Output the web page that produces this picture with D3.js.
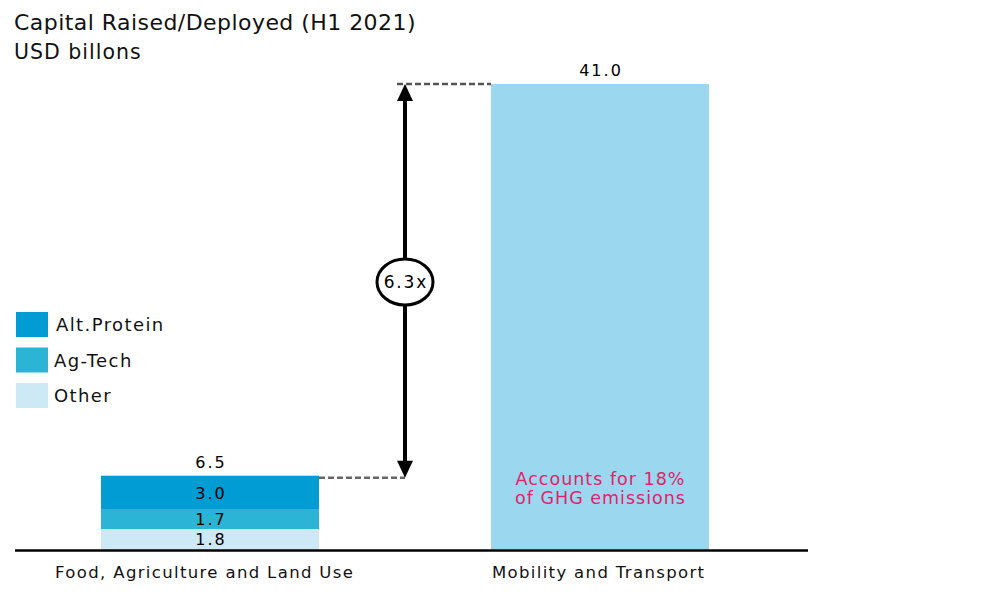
<!DOCTYPE html>
<html><head><meta charset="utf-8">
<script src="https://cdn.jsdelivr.net/npm/d3@7"></script>
<style>body{margin:0;background:#fff}svg{display:block;font-family:"DejaVu Sans",Verdana,sans-serif}</style>
</head><body>
<svg id="c" width="1000" height="600"></svg>
<script>
const categories = ["Food, Agriculture and Land Use", "Mobility and Transport"];
const seriesNames = ["Other", "Ag-Tech", "Alt.Protein"];
const foodValues = [1.8, 1.7, 3.0];
const mobilityValues = [41.0];
const totals = [6.5, 41.0];
const multiple = "6.3x";
const note = ["Accounts for 18%", "of GHG emissions"];
const seriesColors = {"Other":"#cde9f5","Ag-Tech":"#2bb4d6","Alt.Protein":"#009cd3"};
const mobilityColor = "#9bd8ef";

const svg = d3.select("#c");
const baseY = 549.5;
const y = d3.scaleLinear().domain([0, 41]).range([baseY, 84]);
const xb = d3.scaleOrdinal().domain(categories).range([101, 491]);
const bw = 218;

function txt(xp, yp, size, str, opts = {}) {
  const ls = opts.ls || 0;
  const t = svg.append("text").attr("x", xp).attr("y", yp).attr("font-size", size)
    .attr("fill", opts.fill || "#111").attr("letter-spacing", ls).text(str);
  if (opts.anchor === "middle") t.attr("text-anchor", "middle").attr("dx", ls / 2);
  return t;
}

// title
txt(14, 30, 22, "Capital Raised/Deployed (H1 2021)", {ls: 0.45});
txt(14, 59, 20.5, "USD billons", {ls: 1.0});

// stacked bar
let acc = 0;
foodValues.forEach((v,i)=>{
  const s = seriesNames[i];
  const y0 = y(acc), y1 = y(acc+v);
  svg.append("rect").attr("x",xb(categories[0])).attr("width",bw).attr("y",y1).attr("height",y0-y1).attr("fill",seriesColors[s]);
  txt(xb(categories[0])+bw/2, (y0+y1)/2+6, 16, v.toFixed(1), {anchor:"middle", ls:2, fill:"#000"});
  acc += v;
});
// mobility bar
svg.append("rect").attr("x",xb(categories[1])).attr("width",bw).attr("y",y(mobilityValues[0])).attr("height",baseY-y(mobilityValues[0])).attr("fill",mobilityColor);

// totals
totals.forEach((t,i)=>{
  txt(xb(categories[i])+bw/2, y(t)-8, 16, t.toFixed(1), {anchor:"middle", ls:2, fill:"#000"});
});

// note
note.forEach((n,i)=>{
  txt(xb(categories[1])+bw/2, 485+i*19, 17.5, n, {anchor:"middle", ls:1.0, fill:"#e0226a"});
});

// baseline
svg.append("line").attr("x1",15).attr("x2",808).attr("y1",550.5).attr("y2",550.5).attr("stroke","#000").attr("stroke-width",2.5);

// category labels
categories.forEach((c,i)=>{
  txt(xb(c)+bw/2 + (i===0?-6:-2), 578, 16.5, c, {anchor:"middle", ls:1.35, fill:"#111"});
});

// dashed connectors
const ax = 405;
svg.append("line").attr("x1",xb(categories[0])+bw).attr("x2",ax).attr("y1",y(totals[0])+2).attr("y2",y(totals[0])+2).attr("stroke","#666").attr("stroke-width",2.5).attr("stroke-dasharray","6,3");
svg.append("line").attr("x1",397).attr("x2",xb(categories[1])).attr("y1",y(totals[1])).attr("y2",y(totals[1])).attr("stroke","#555").attr("stroke-width",2.5).attr("stroke-dasharray","6,3");

// arrow
const topY = y(totals[1]), botY = y(totals[0])+2;
svg.append("line").attr("x1",ax).attr("x2",ax).attr("y1",topY+14).attr("y2",botY-14).attr("stroke","#000").attr("stroke-width",4);
svg.append("path").attr("d",`M${ax},${topY} L${ax-8},${topY+17} L${ax+8},${topY+17} Z`).attr("fill","#000");
svg.append("path").attr("d",`M${ax},${botY} L${ax-8},${botY-17} L${ax+8},${botY-17} Z`).attr("fill","#000");
svg.append("ellipse").attr("cx",ax).attr("cy",282).attr("rx",28).attr("ry",23).attr("fill","#fff").attr("stroke","#000").attr("stroke-width",3);
txt(ax, 288, 17, multiple, {anchor:"middle", ls:1.8, fill:"#000"});

// legend
const legendOrder = ["Alt.Protein","Ag-Tech","Other"];
legendOrder.forEach((s,i)=>{
  const ly = 312 + i*35.5;
  svg.append("rect").attr("x",16).attr("y",ly).attr("width",32).attr("height",25).attr("fill",seriesColors[s]);
  txt(i===0?56:54, ly+19, 18, s, {ls:1.4, fill:"#111"});
});
</script>
</body></html>
